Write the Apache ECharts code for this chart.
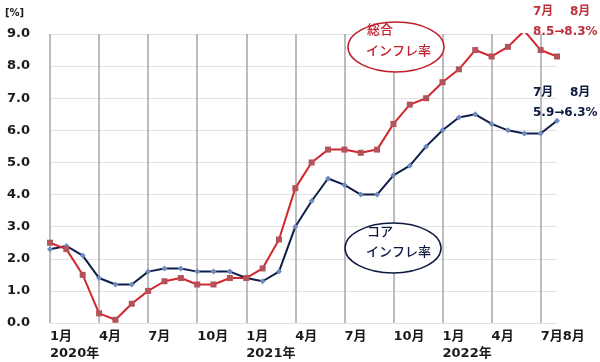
<!DOCTYPE html>
<html>
<head>
<meta charset="utf-8">
<script src="https://cdn.jsdelivr.net/npm/echarts@6/dist/echarts.min.js"></script>
<style>
html,body{margin:0;padding:0;background:#fff;}
#c{width:600px;height:362px;}
</style>
</head>
<body>
<div id="c"></div>
<script>
// Months Jan 2020 - Aug 2022
const months = ['1月','2月','3月','4月','5月','6月','7月','8月','9月','10月','11月','12月',
                '1月','2月','3月','4月','5月','6月','7月','8月','9月','10月','11月','12月',
                '1月','2月','3月','4月','5月','6月','7月','8月'];
const yearLabels = {0:'2020年', 12:'2021年', 24:'2022年'};
// Headline (総合) inflation, %
const headline = [2.5,2.3,1.5,0.3,0.1,0.6,1.0,1.3,1.4,1.2,1.2,1.4,
                  1.4,1.7,2.6,4.2,5.0,5.4,5.4,5.3,5.4,6.2,6.8,7.0,
                  7.5,7.9,8.5,8.3,8.6,9.1,8.5,8.3];
// Core (コア) inflation, %
const core = [2.3,2.4,2.1,1.4,1.2,1.2,1.6,1.7,1.7,1.6,1.6,1.6,
              1.4,1.3,1.6,3.0,3.8,4.5,4.3,4.0,4.0,4.6,4.9,5.5,
              6.0,6.4,6.5,6.2,6.0,5.9,5.9,6.3];
const yTicks = [0,1,2,3,4,5,6,7,8,9];

const chart = echarts.init(document.getElementById('c'), null, {renderer:'canvas'});
const lblFont = '"DejaVu Sans","Noto Sans CJK JP",sans-serif';
const cjkFont = '"Noto Sans CJK JP","DejaVu Sans",sans-serif';
const last = months.length - 1;

chart.setOption({
  animation:false,
  backgroundColor:'#fff',
  grid:{left:50,right:43,top:34,bottom:35},
  xAxis:{
    type:'category',
    data:months,
    boundaryGap:false,
    axisLine:{show:false},
    axisTick:{show:false},
    axisLabel:{
      interval:(i)=>i % 3 === 0,
      showMaxLabel:true,
      showMinLabel:true,
      hideOverlap:false,
      align:'left',
      margin:5,
      fontFamily:lblFont,
      fontWeight:'bold',
      fontSize:13,
      lineHeight:17,
      color:'#1a1a1a',
      formatter:(v,i)=>{
        if(i === last - 1) return v + months[last];
        return yearLabels[i] ? v+'\n'+yearLabels[i] : v;
      }
    },
    splitLine:{show:true,interval:(i)=>i%3===0,lineStyle:{color:'#a6a6a6',width:1.5}}
  },
  yAxis:{
    type:'value',
    min:yTicks[0], max:yTicks[yTicks.length-1], interval:1,
    axisLine:{show:false},
    axisTick:{show:false},
    axisLabel:{
      align:'left',margin:43,
      fontFamily:lblFont,fontWeight:'bold',fontSize:13,color:'#1a1a1a',
      formatter:v=>v.toFixed(1)
    },
    splitLine:{lineStyle:{color:'#e2e2e2',width:1}}
  },
  series:[
    {
      name:'コア',
      type:'line',
      data:core,
      symbol:'diamond',
      symbolSize:6,
      lineStyle:{color:'#0f1d4a',width:2},
      itemStyle:{color:'#6f8bbd'},
      z:3
    },
    {
      name:'総合',
      type:'line',
      data:headline,
      symbol:'rect',
      symbolSize:6,
      lineStyle:{color:'#d4262e',width:2},
      itemStyle:{color:'#b4525a'},
      z:4
    }
  ],
  graphic:[
    {type:'text',left:5,top:8,style:{text:'[%]',font:'bold 10px '+lblFont,fill:'#1a1a1a'}},
    {type:'ellipse',shape:{cx:396,cy:47,rx:48,ry:25},style:{fill:'#fff',stroke:'#c0202e',lineWidth:1.5},z:10},
    {type:'text',x:367,y:23,style:{text:'総合',font:'500 13px '+cjkFont,fill:'#c0202e'},z:11},
    {type:'text',x:366,y:44,style:{text:'インフレ率',font:'500 13px '+cjkFont,fill:'#c0202e'},z:11},
    {type:'ellipse',shape:{cx:393,cy:248,rx:48,ry:25},style:{fill:'#fff',stroke:'#0d1a40',lineWidth:1.5},z:10},
    {type:'text',x:367,y:225,style:{text:'コア',font:'500 13px '+cjkFont,fill:'#0d1a40'},z:11},
    {type:'text',x:366,y:245,style:{text:'インフレ率',font:'500 13px '+cjkFont,fill:'#0d1a40'},z:11},
    {type:'text',x:533,y:6,style:{text:'7月',font:'bold 12px '+lblFont,fill:'#c0303a'},z:11},
    {type:'text',x:570,y:6,style:{text:'8月',font:'bold 12px '+lblFont,fill:'#c0303a'},z:11},
    {type:'text',x:533,y:26,style:{text:'8.5→8.3%',font:'bold 12px '+lblFont,fill:'#c0303a'},z:11},
    {type:'text',x:533,y:87,style:{text:'7月',font:'bold 12px '+lblFont,fill:'#0d1a40'},z:11},
    {type:'text',x:570,y:87,style:{text:'8月',font:'bold 12px '+lblFont,fill:'#0d1a40'},z:11},
    {type:'text',x:533,y:107,style:{text:'5.9→6.3%',font:'bold 12px '+lblFont,fill:'#0d1a40'},z:11}
  ]
});
</script>
</body>
</html>
